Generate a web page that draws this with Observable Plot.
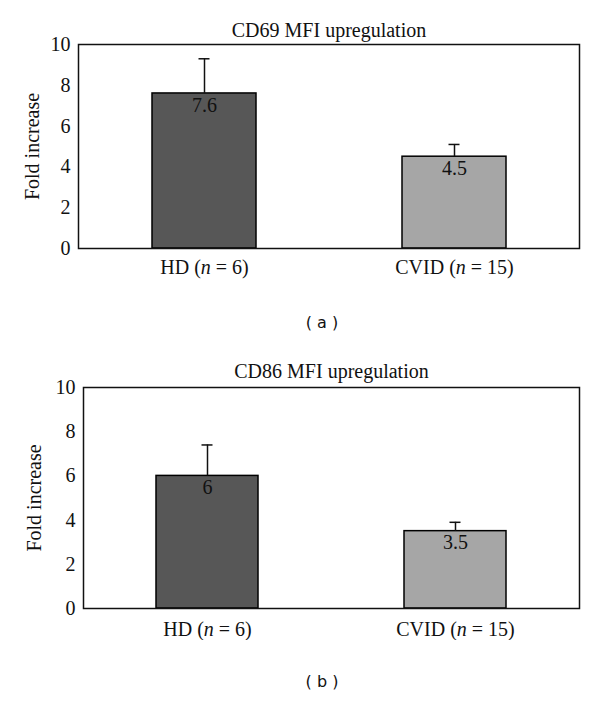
<!DOCTYPE html>
<html>
<head>
<meta charset="utf-8">
<script src="https://cdn.jsdelivr.net/npm/d3@7"></script>
<script src="https://cdn.jsdelivr.net/npm/@observablehq/plot@0.6"></script>
<style>
  body { margin: 0; background: #fff; }
  #wrap { position: relative; width: 600px; height: 704px; overflow: hidden; }
  .panel { position: absolute; left: 0; }
  #wrap svg, #wrap svg text { font-family: "Liberation Serif", "Times New Roman", serif; }
  .plab { position: absolute; left: 0; width: 644px; text-align: center; font-family: "DejaVu Sans", sans-serif; font-size: 16px; line-height: 20px; color: #111; }
</style>
</head>
<body>
<div id="wrap">
  <div id="pa" class="panel" style="top:0"></div>
  <div class="plab" style="top:313px">( a )</div>
  <div id="pb" class="panel" style="top:340px"></div>
  <div class="plab" style="top:672px">( b )</div>
</div>
<script>
// ---- data ----
const groups = ["HD (n = 6)", "CVID (n = 15)"];
const barColors = ["#575757", "#a6a6a6"];
const cd69Mean = [7.6, 4.5];
const cd69ErrTop = [9.3, 5.1];
const cd86Mean = [6, 3.5];
const cd86ErrTop = [7.4, 3.9];
const yTicks = [0, 2, 4, 6, 8, 10];
const titleA = "CD69 MFI upregulation";
const titleB = "CD86 MFI upregulation";
const yLabel = "Fold increase";

const FS = 20;

function makePanel(title, means, errTops, cfg) {
  const data = groups.map((g, i) => ({group: g, mean: means[i], err: errTops[i], color: barColors[i], label: String(means[i])}));
  const svg = Plot.plot({
    width: 600,
    height: cfg.height,
    marginLeft: cfg.ml,
    marginRight: 21,
    marginTop: cfg.mt,
    marginBottom: cfg.mb,
    style: {fontFamily: "Liberation Serif, Times New Roman, serif", fontSize: FS + "px", color: "#111", background: "white"},
    x: {domain: groups, paddingInner: cfg.pi, paddingOuter: cfg.pi / 2, axis: null},
    y: {domain: [0, 10], axis: null},
    color: {type: "identity"},
    marks: [
      Plot.barY(data, {x: "group", y: "mean", fill: "color", stroke: "black", strokeWidth: 1.5}),
      Plot.ruleX(data, {x: "group", y1: "mean", y2: "err", stroke: "#111", strokeWidth: 1.5}),
      Plot.tickY(data, {x: "group", y: "err", stroke: "#111", strokeWidth: 1.5, inset: cfg.capInset}),
      Plot.text(data, {x: "group", y: "mean", text: "label", lineAnchor: "top", dy: 4, fill: "#111", fontSize: FS}),
      Plot.frame({stroke: "#111", strokeWidth: 1.5}),
      Plot.axisY({ticks: yTicks, tickSize: 0, tickPadding: 8, label: null, fontSize: FS}),
      Plot.axisX({tickSize: 0, tickPadding: cfg.xpad, label: null, fontSize: FS}),
      Plot.text([title], {frameAnchor: "top", lineAnchor: "bottom", dy: cfg.titleDy, fontSize: FS, fill: "#111"}),
      Plot.text([yLabel], {frameAnchor: "left", rotate: -90, lineAnchor: "bottom", textAnchor: "middle", dx: cfg.ylDx, fontSize: FS, fill: "#111"})
    ]
  });
  // italicize the "n" in the group tick labels
  svg.querySelectorAll('g[aria-label="x-axis tick label"] text').forEach(t => {
    const s = t.textContent;
    const m = s.match(/^(.*\()n(.*)$/);
    if (!m) return;
    t.textContent = "";
    const ns = "http://www.w3.org/2000/svg";
    const a = document.createElementNS(ns, "tspan"); a.textContent = m[1];
    const b = document.createElementNS(ns, "tspan"); b.textContent = "n"; b.setAttribute("font-style", "italic");
    const c = document.createElementNS(ns, "tspan"); c.textContent = m[2];
    t.append(a, b, c);
  });
  return svg;
}

document.getElementById("pa").append(makePanel(titleA, cd69Mean, cd69ErrTop,
  {height: 290, ml: 78, mt: 44, mb: 42, pi: 0.585, capInset: 46.5, xpad: 11, titleDy: -8, ylDx: -40}));
document.getElementById("pb").append(makePanel(titleB, cd86Mean, cd86ErrTop,
  {height: 300, ml: 83, mt: 47, mb: 32, pi: 0.589, capInset: 45.5, xpad: 13, titleDy: -10, ylDx: -43}));
</script>
</body>
</html>
